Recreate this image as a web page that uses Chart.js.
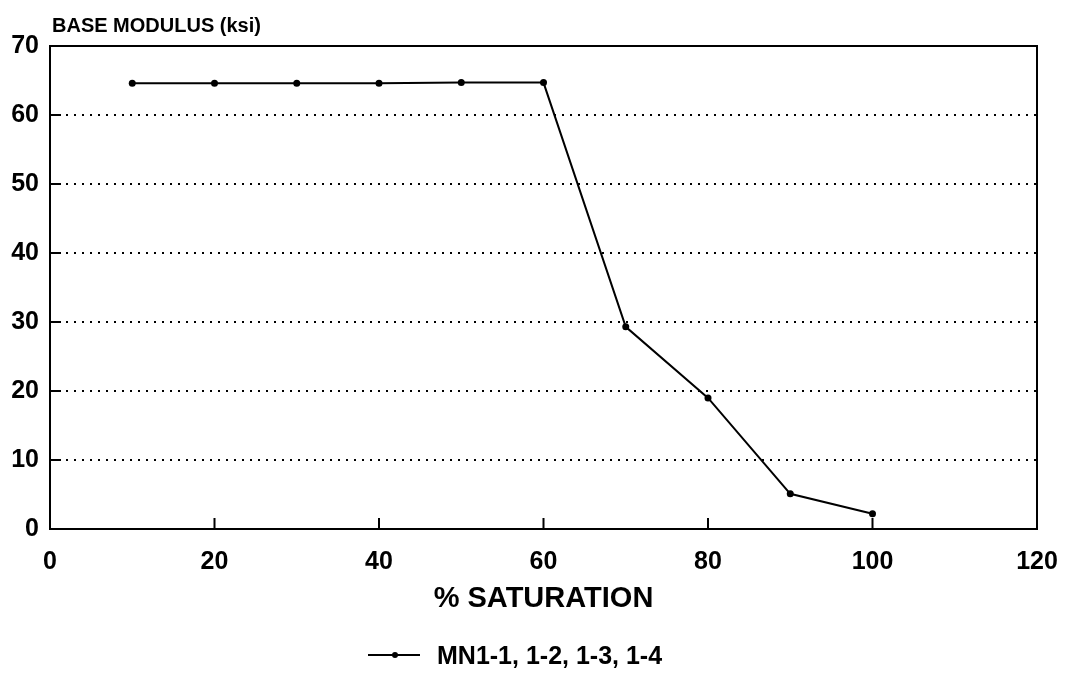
<!DOCTYPE html>
<html>
<head>
<meta charset="utf-8">
<script src="https://cdn.jsdelivr.net/npm/chart.js@4.4.1/dist/chart.umd.min.js"></script>
<style>
  html, body { margin: 0; padding: 0; background: #fff; }
  #wrap { width: 1067px; height: 679px; position: relative; }
</style>
</head>
<body>
<div id="wrap"><canvas id="c" width="1067" height="679"></canvas></div>
<script>
// Base modulus vs. degree of saturation
const saturation = [10, 20, 30, 40, 50, 60, 70, 80, 90, 100];
const baseModulus = [64.6, 64.6, 64.6, 64.6, 64.7, 64.7, 29.3, 19.0, 5.1, 2.2];
const seriesLabel = 'MN1-1, 1-2, 1-3, 1-4';
const xTitle = '% SATURATION';
const yTitle = 'BASE MODULUS (ksi)';
const xTicks = [0, 20, 40, 60, 80, 100, 120];
const yTicks = [0, 10, 20, 30, 40, 50, 60, 70];

const FONT = "'Liberation Sans', Arial, Helvetica, sans-serif";

// Frame, inward tick marks, axis titles and legend
const decorations = {
  id: 'decorations',
  afterDatasetsDraw(chart) {
    const { ctx, chartArea: a, scales } = chart;
    ctx.save();
    ctx.strokeStyle = '#000';
    ctx.lineWidth = 2;
    ctx.strokeRect(a.left, a.top, a.right - a.left, a.bottom - a.top);

    // inward ticks
    ctx.beginPath();
    xTicks.forEach(v => {
      const x = scales.x.getPixelForValue(v);
      ctx.moveTo(x, a.bottom);
      ctx.lineTo(x, a.bottom - 11);
    });
    yTicks.forEach(v => {
      const y = scales.y.getPixelForValue(v);
      ctx.moveTo(a.left, y);
      ctx.lineTo(a.left + 11, y);
    });
    ctx.stroke();

    ctx.fillStyle = '#000';
    // y-axis title above the plot
    ctx.font = 'bold 20px ' + FONT;
    ctx.textAlign = 'left';
    ctx.textBaseline = 'alphabetic';
    ctx.fillText(yTitle, a.left + 2, 32);

    // x-axis title
    ctx.font = 'bold 29px ' + FONT;
    ctx.textAlign = 'center';
    ctx.fillText(xTitle, (a.left + a.right) / 2, 607);

    // legend
    const ly = 655;
    ctx.lineWidth = 2;
    ctx.beginPath();
    ctx.moveTo(368, ly);
    ctx.lineTo(420, ly);
    ctx.stroke();
    ctx.beginPath();
    ctx.arc(395, ly, 3, 0, Math.PI * 2);
    ctx.fill();
    ctx.font = 'bold 25px ' + FONT;
    ctx.textAlign = 'left';
    ctx.fillText(seriesLabel, 437, 664);
    ctx.restore();
  }
};

new Chart(document.getElementById('c'), {
  type: 'line',
  data: {
    datasets: [{
      label: seriesLabel,
      data: saturation.map((s, i) => ({ x: s, y: baseModulus[i] })),
      borderColor: '#000',
      backgroundColor: '#000',
      borderWidth: 2,
      pointRadius: 3.5,
      pointBackgroundColor: '#000',
      pointBorderWidth: 0,
      tension: 0,
      fill: false
    }]
  },
  options: {
    responsive: false,
    animation: false,
    devicePixelRatio: 1,
    layout: { padding: { left: 0, top: 46, right: 30, bottom: 0 } },
    plugins: {
      legend: { display: false },
      tooltip: { enabled: false },
      title: { display: false }
    },
    scales: {
      x: {
        type: 'linear',
        min: 0, max: 120,
        afterFit(scale) {
          scale.height = 150;
          scale.paddingLeft = 0;
          scale.paddingRight = 0;
        },
        afterBuildTicks(scale) { scale.ticks = xTicks.map(v => ({ value: v })); },
        ticks: {
          color: '#000',
          font: { family: FONT, size: 25, weight: 'bold' },
          padding: 18,
          maxRotation: 0
        },
        grid: { display: false, drawTicks: false },
        border: { display: false }
      },
      y: {
        min: 0, max: 70,
        afterFit(scale) {
          scale.width = 50;
          scale.paddingTop = 0;
          scale.paddingBottom = 0;
        },
        afterBuildTicks(scale) { scale.ticks = yTicks.map(v => ({ value: v })); },
        ticks: {
          color: '#000',
          font: { family: FONT, size: 25, weight: 'bold' },
          padding: 11
        },
        grid: {
          drawTicks: false,
          lineWidth: 2,
          color: ctx => (ctx.tick && (ctx.tick.value === 0 || ctx.tick.value === 70)) ? 'rgba(0,0,0,0)' : '#000'
        },
        border: { display: false, dash: [2, 6] }
      }
    }
  },
  plugins: [decorations]
});
</script>
</body>
</html>
